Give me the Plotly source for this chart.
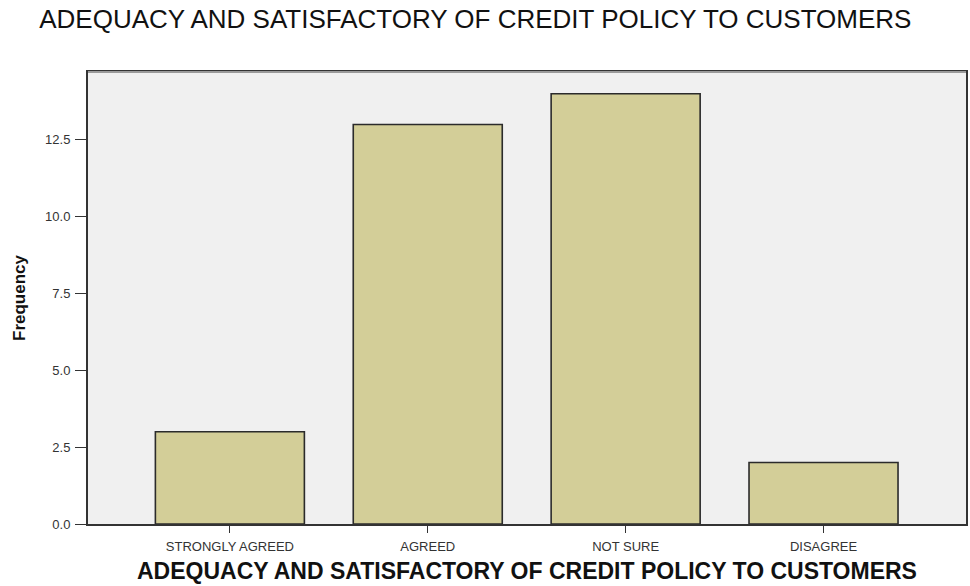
import plotly.graph_objects as go

# Survey responses on credit policy adequacy
categories = ["STRONGLY AGREED", "AGREED", "NOT SURE", "DISAGREE"]
frequency = [3, 13, 14, 2]
y_tick_values = [0, 2.5, 5, 7.5, 10, 12.5]
y_tick_labels = ["0.0", "2.5", "5.0", "7.5", "10.0", "12.5"]

title_text = "ADEQUACY AND SATISFACTORY OF CREDIT POLICY TO CUSTOMERS"

fig = go.Figure(
    go.Bar(
        x=list(range(len(categories))),
        y=frequency,
        width=0.753,
        marker=dict(color="#D3CE98", line=dict(color="#2b2b2b", width=1.6)),
        hoverinfo="y",
    )
)

fig.update_layout(
    width=970,
    height=586,
    margin=dict(l=88, r=2, t=72, b=62),
    paper_bgcolor="white",
    plot_bgcolor="#F0F0F0",
    showlegend=False,
    title=dict(
        text=title_text,
        x=0.49,
        xanchor="center",
        y=0.967,
        yanchor="middle",
        font=dict(family="Arial, Liberation Sans, sans-serif", size=26, color="#111"),
    ),
    font=dict(family="Arial, Liberation Sans, sans-serif", color="#222"),
)

fig.update_xaxes(
    range=[-0.717, 3.72],
    tickmode="array",
    tickvals=list(range(len(categories))),
    ticktext=categories,
    ticks="outside",
    ticklen=7,
    tickwidth=1,
    tickcolor="#333",
    ticklabelstandoff=2,
    tickfont=dict(size=13, color="#333"),
    showline=True,
    linecolor="#333",
    linewidth=2,
    mirror=True,
    showgrid=False,
    zeroline=False,
)

# x-axis title placed below the category labels
fig.add_annotation(
    text="<b>" + title_text + "</b>",
    xref="paper", yref="paper", x=0.5, y=-0.103,
    xanchor="center", yanchor="middle", showarrow=False,
    font=dict(family="Arial, Liberation Sans, sans-serif", size=23, color="#111"),
)

fig.update_yaxes(
    range=[0, 14.71],
    tickmode="array",
    tickvals=y_tick_values,
    ticktext=y_tick_labels,
    ticks="outside",
    ticklen=11,
    tickwidth=1,
    tickcolor="#333",
    ticklabelstandoff=2,
    tickfont=dict(size=13, color="#333"),
    showline=True,
    linecolor="#333",
    linewidth=2,
    mirror=True,
    showgrid=False,
    zeroline=False,
    title=dict(
        text="<b>Frequency</b>",
        font=dict(family="Arial, Liberation Sans, sans-serif", size=17, color="#111"),
        standoff=15,
    ),
)

# lighter top border of the plot frame
fig.add_shape(
    type="line", xref="paper", yref="paper", x0=0, x1=1, y0=1, y1=1,
    line=dict(color="#9a9a9a", width=2),
)

fig.write_html("out.html")
